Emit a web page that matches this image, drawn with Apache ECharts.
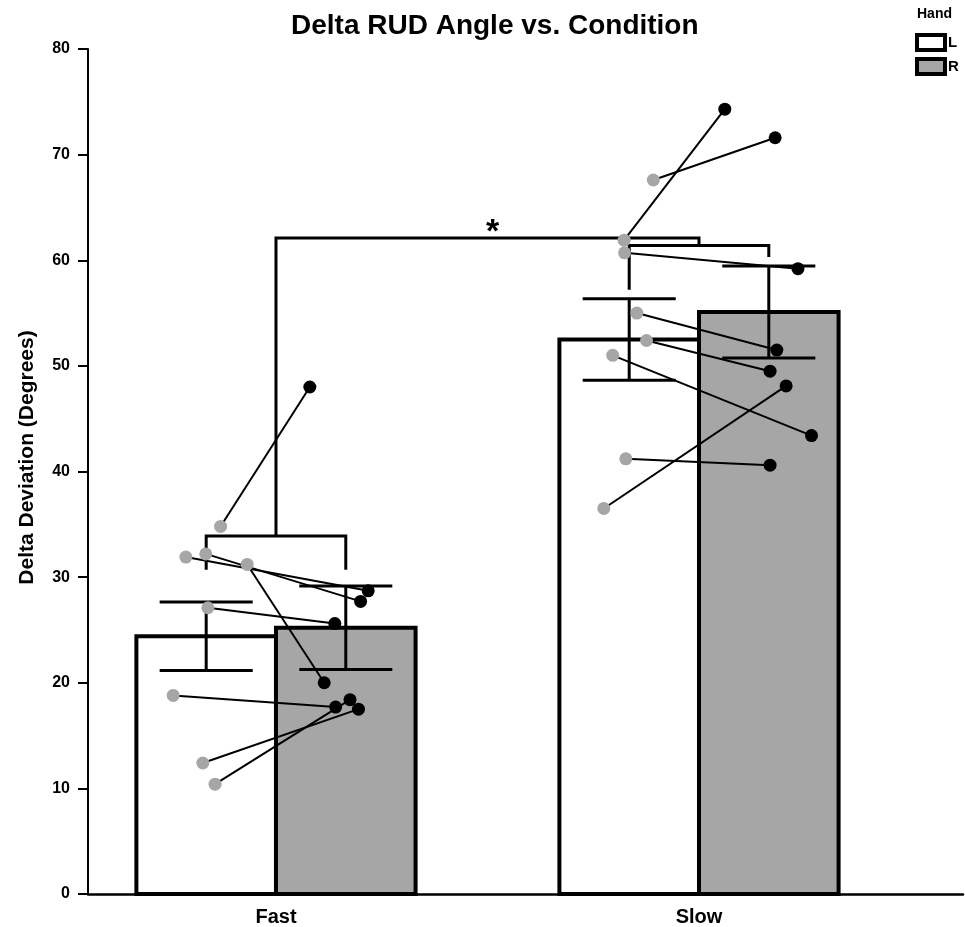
<!DOCTYPE html>
<html>
<head>
<meta charset="utf-8">
<title>Delta RUD Angle vs. Condition</title>
<script src="https://cdn.jsdelivr.net/npm/echarts@6/dist/echarts.min.js"></script>
<style>
  html, body { margin: 0; padding: 0; background: #fff; }
  #chart { width: 965px; height: 927px; }
</style>
</head>
<body>
<div id="chart"></div>
<script>
// conditions, drawn at x = 1 and x = 2
const categories = ['Fast', 'Slow'];

// group means and SEM per hand
const meanL = [24.4, 52.5];
const meanR = [25.2, 55.1];
const semL = [3.25, 3.85];
const semR = [3.95, 4.35];

// single subjects, L and R paired by index
const fastL = [34.8, 31.9, 32.2, 31.2, 27.1, 18.8, 12.4, 10.4];
const fastR = [48.0, 28.7, 27.7, 20.0, 25.6, 17.7, 17.5, 18.4];
const slowL = [61.9, 67.6, 60.7, 55.0, 52.4, 36.5, 51.0, 41.2];
const slowR = [74.3, 71.6, 59.2, 51.5, 49.5, 48.1, 43.4, 40.6];

// horizontal jitter of each dot from the condition centre
const fastJitterL = [-0.131, -0.213, -0.166, -0.068, -0.161, -0.243, -0.173, -0.144];
const fastJitterR = [0.080, 0.218, 0.200, 0.114, 0.139, 0.141, 0.195, 0.175];
const slowJitterL = [-0.177, -0.108, -0.176, -0.147, -0.124, -0.225, -0.204, -0.173];
const slowJitterR = [0.061, 0.180, 0.234, 0.184, 0.168, 0.206, 0.266, 0.168];

// y axis ticks
const yMin = 0, yMax = 80, yStep = 10;

// significance brackets: [x from, x to, top, left leg end, right leg end]
const brackets = [
  [0.835, 1.165, 33.9, 30.7, 30.7],
  [1.835, 2.165, 61.4, 57.2, 60.3],
  [1, 2, 62.1, 33.9, 61.4]
];
const bracketLabels = ['', '', '*'];

const FONT = "'Liberation Sans', Arial, Helvetica, sans-serif";
const BAR_W = 0.33;
const CAP_W = 0.22;
const GREY = '#a6a6a6';

const subjL = [fastL, slowL], subjR = [fastR, slowR];
const jitL = [fastJitterL, slowJitterL], jitR = [fastJitterR, slowJitterR];

const pairs = [], dotsL = [], dotsR = [];
categories.forEach((c, i) => {
  subjL[i].forEach((v, k) => {
    const xl = i + 1 + jitL[i][k], xr = i + 1 + jitR[i][k];
    pairs.push([xl, v, xr, subjR[i][k]]);
    dotsL.push([xl, v]);
    dotsR.push([xr, subjR[i][k]]);
  });
});

function barRenderer(side, fill) {
  return function (params, api) {
    const c = api.value(0), m = api.value(1), e = api.value(2);
    const x0 = side === 'L' ? c - BAR_W : c;
    const x1 = side === 'L' ? c : c + BAR_W;
    const xm = (x0 + x1) / 2;
    const p0 = api.coord([x0, 0]);
    const p1 = api.coord([x1, m]);
    const top = api.coord([xm, m + e]);
    const bot = api.coord([xm, m - e]);
    const half = api.size([CAP_W, 0])[0] / 2;
    const ln = { stroke: '#000', lineWidth: 3 };
    return {
      type: 'group',
      children: [
        { type: 'rect', shape: { x: p0[0], y: p1[1], width: p1[0] - p0[0], height: p0[1] - p1[1] },
          style: { fill: fill, stroke: '#000', lineWidth: 4 } },
        { type: 'line', shape: { x1: top[0], y1: top[1], x2: bot[0], y2: bot[1] }, style: ln },
        { type: 'line', shape: { x1: top[0] - half, y1: top[1], x2: top[0] + half, y2: top[1] }, style: ln },
        { type: 'line', shape: { x1: bot[0] - half, y1: bot[1], x2: bot[0] + half, y2: bot[1] }, style: ln }
      ]
    };
  };
}

const chart = echarts.init(document.getElementById('chart'));

chart.setOption({
  backgroundColor: '#fff',
  animation: false,
  textStyle: { fontFamily: FONT },
  title: [
    { text: 'Delta RUD Angle vs. Condition', left: 291, top: 12, padding: 0,
      textStyle: { fontFamily: FONT, fontSize: 28, fontWeight: 'bold', color: '#000' } },
    { text: 'Hand', left: 917, top: 7, padding: 0,
      textStyle: { fontFamily: FONT, fontSize: 14, fontWeight: 'bold', color: '#000' } }
  ],
  legend: {
    orient: 'vertical', left: 915, top: 33, padding: 0,
    itemWidth: 28, itemHeight: 15, itemGap: 5, selectedMode: false,
    textStyle: { fontFamily: FONT, fontSize: 15, fontWeight: 'bold', color: '#000', padding: [0, 0, 0, -2] },
    data: [
      { name: 'L', icon: 'rect', itemStyle: { color: '#fff', borderColor: '#000', borderWidth: 4 } },
      { name: 'R', icon: 'rect', itemStyle: { color: GREY, borderColor: '#000', borderWidth: 4 } }
    ]
  },
  grid: { left: 88, right: 2, top: 49, bottom: 33 },
  xAxis: {
    type: 'value', min: 0.5556, max: 2.6241,
    axisLine: { show: true, lineStyle: { color: '#000', width: 2.5 } },
    axisTick: { show: false },
    splitLine: { show: false },
    axisLabel: {
      customValues: [1, 2],
      formatter: v => categories[Math.round(v) - 1],
      color: '#000', fontFamily: FONT, fontSize: 20, fontWeight: 'bold', margin: 13
    }
  },
  yAxis: {
    type: 'value', min: yMin, max: yMax, interval: yStep,
    name: 'Delta Deviation (Degrees)', nameLocation: 'middle', nameGap: 50,
    nameTextStyle: { fontFamily: FONT, fontSize: 21, fontWeight: 'bold', color: '#000', padding: [0, 0, 0, 28] },
    axisLine: { show: true, lineStyle: { color: '#000', width: 2 } },
    axisTick: { show: true, length: 10, lineStyle: { color: '#000', width: 2 } },
    splitLine: { show: false },
    axisLabel: { color: '#000', fontFamily: FONT, fontSize: 16, fontWeight: 'bold', margin: 18 }
  },
  series: [
    {
      name: 'L', type: 'custom', z: 2, clip: false,
      itemStyle: { color: '#fff', borderColor: '#000', borderWidth: 4 },
      renderItem: barRenderer('L', '#fff'),
      encode: { x: 0, y: 1 },
      data: categories.map((c, i) => [i + 1, meanL[i], semL[i]])
    },
    {
      name: 'R', type: 'custom', z: 2, clip: false,
      itemStyle: { color: GREY, borderColor: '#000', borderWidth: 4 },
      renderItem: barRenderer('R', GREY),
      encode: { x: 0, y: 1 },
      data: categories.map((c, i) => [i + 1, meanR[i], semR[i]])
    },
    {
      name: 'brackets', type: 'custom', z: 3, clip: false,
      encode: { x: [0, 1], y: [2, 3, 4] },
      renderItem: function (params, api) {
        const a = api.coord([api.value(0), api.value(3)]);
        const b = api.coord([api.value(0), api.value(2)]);
        const c = api.coord([api.value(1), api.value(2)]);
        const d = api.coord([api.value(1), api.value(4)]);
        const children = [{
          type: 'polyline', shape: { points: [a, b, c, d] },
          style: { stroke: '#000', lineWidth: 3, fill: null }
        }];
        const lab = bracketLabels[params.dataIndex];
        if (lab) {
          children.push({
            type: 'text', x: (b[0] + c[0]) / 2 + 5, y: b[1] - 5,
            style: { text: lab, fontFamily: FONT, fontSize: 34, fontWeight: 'bold',
                     fill: '#000', align: 'center', verticalAlign: 'middle' }
          });
        }
        return { type: 'group', children: children };
      },
      data: brackets
    },
    {
      name: 'pairs', type: 'custom', z: 4, clip: false,
      encode: { x: [0, 2], y: [1, 3] },
      renderItem: function (params, api) {
        const p = api.coord([api.value(0), api.value(1)]);
        const q = api.coord([api.value(2), api.value(3)]);
        return { type: 'line', shape: { x1: p[0], y1: p[1], x2: q[0], y2: q[1] },
                 style: { stroke: '#000', lineWidth: 2 } };
      },
      data: pairs
    },
    {
      name: 'L subjects', type: 'scatter', z: 5, symbolSize: 13,
      itemStyle: { color: GREY, opacity: 1 },
      data: dotsL
    },
    {
      name: 'R subjects', type: 'scatter', z: 5, symbolSize: 13,
      itemStyle: { color: '#000', opacity: 1 },
      data: dotsR
    }
  ]
});
</script>
</body>
</html>
